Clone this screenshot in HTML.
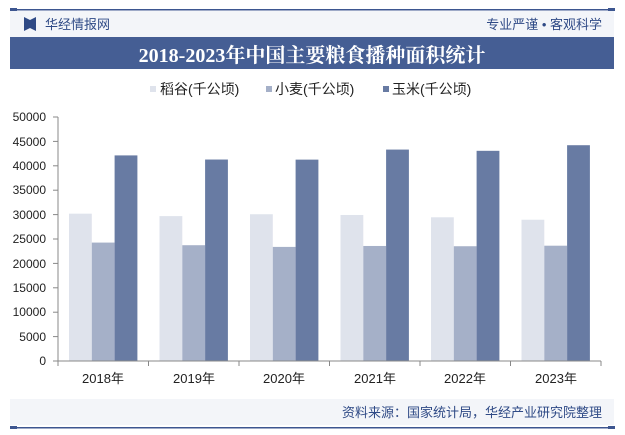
<!DOCTYPE html>
<html><head><meta charset="utf-8"><style>
body{margin:0;width:625px;height:435px;background:#fff;font-family:"Liberation Sans","Noto Sans CJK SC",sans-serif;overflow:hidden;position:relative}
</style></head><body>
<svg width="625" height="435" xmlns="http://www.w3.org/2000/svg" style="position:absolute;left:0;top:0">
<rect x="10" y="9" width="604" height="1.5" fill="#3d5690"/>
<rect x="10" y="8" width="7" height="3" fill="#3d5690"/><rect x="608" y="8" width="7" height="3" fill="#3d5690"/>
<rect x="10" y="11" width="604" height="26" fill="#f3f5f9"/>
<path d="M24 17 L30 20 L30 28 L24 31 Z M36 17 L30 20 L30 28 L36 31 Z" fill="#2f4a86"/>
<text x="45" y="29" font-size="13" fill="#2f4a86">华经情报网</text>
<text x="602" y="29" font-size="13" fill="#2f4a86" text-anchor="end">专业严谨 • 客观科学</text>
<rect x="10" y="37" width="604" height="32" fill="#455e94"/>
<text x="312" y="62" font-size="20" font-weight="bold" fill="#fff" text-anchor="middle" font-family="'Liberation Serif','Noto Serif CJK SC',serif">2018-2023年中国主要粮食播种面积统计</text>
<g font-size="14" fill="#222">
<rect x="150" y="86" width="6" height="6" fill="#dfe3ec"/><text x="160" y="94">稻谷(千公顷)</text>
<rect x="266" y="86" width="6" height="6" fill="#a5b0c8"/><text x="275" y="94">小麦(千公顷)</text>
<rect x="383" y="86" width="6" height="6" fill="#687ba3"/><text x="392" y="94">玉米(千公顷)</text>
</g>
<g font-size="12" fill="#222" text-anchor="end">
<text x="46" y="121">50000</text><text x="46" y="146">45000</text><text x="46" y="170">40000</text><text x="46" y="194">35000</text><text x="46" y="219">30000</text><text x="46" y="243">25000</text><text x="46" y="268">20000</text><text x="46" y="292">15000</text><text x="46" y="316">10000</text><text x="46" y="341">5000</text><text x="46" y="365">0</text>
</g>
<line x1="58" y1="117" x2="58" y2="361" stroke="#888"/>
<g stroke="#888"><line x1="53" y1="117" x2="58" y2="117"/><line x1="53" y1="141.4" x2="58" y2="141.4"/><line x1="53" y1="165.8" x2="58" y2="165.8"/><line x1="53" y1="190.2" x2="58" y2="190.2"/><line x1="53" y1="214.6" x2="58" y2="214.6"/><line x1="53" y1="239" x2="58" y2="239"/><line x1="53" y1="263.4" x2="58" y2="263.4"/><line x1="53" y1="287.8" x2="58" y2="287.8"/><line x1="53" y1="312.2" x2="58" y2="312.2"/><line x1="53" y1="336.6" x2="58" y2="336.6"/></g>
<g id="bars"></g>
<line x1="53" y1="361" x2="601" y2="361" stroke="#888"/>
<g stroke="#888"><line x1="58" y1="361" x2="58" y2="366"/><line x1="148.5" y1="361" x2="148.5" y2="366"/><line x1="239" y1="361" x2="239" y2="366"/><line x1="329.5" y1="361" x2="329.5" y2="366"/><line x1="420" y1="361" x2="420" y2="366"/><line x1="510.5" y1="361" x2="510.5" y2="366"/><line x1="601" y1="361" x2="601" y2="366"/></g>
<g font-size="13" fill="#222" text-anchor="middle">
<text x="103" y="383">2018年</text><text x="194" y="383">2019年</text><text x="284" y="383">2020年</text><text x="375" y="383">2021年</text><text x="465" y="383">2022年</text><text x="556" y="383">2023年</text>
</g>
<rect x="10" y="399" width="604" height="26" fill="#f3f5f9"/>
<text x="602" y="417" font-size="13" fill="#2f4a86" text-anchor="end">资料来源：国家统计局，华经产业研究院整理</text>
<rect x="10" y="427" width="604" height="1.5" fill="#3d5690"/>
<rect x="10" y="426" width="7" height="3" fill="#3d5690"/><rect x="608" y="426" width="7" height="3" fill="#3d5690"/>
</svg>
<script>
var r=[30189,29694,30076,29921,29450,28949],w=[24266,23728,23380,23571,23518,23627],c=[42130,41284,41264,43324,43070,44219];
var g=document.getElementById('bars'),s='',k=244/50000;
for(var i=0;i<6;i++){var x=58+i*90.5+11;
[[r[i],'#dfe3ec'],[w[i],'#a5b0c8'],[c[i],'#687ba3']].forEach(function(d,j){var h=d[0]*k;s+='<rect x="'+(x+j*22.8)+'" y="'+(361-h)+'" width="22.8" height="'+h+'" fill="'+d[1]+'"/>';});}
g.innerHTML=s;
</script>
</body></html>
